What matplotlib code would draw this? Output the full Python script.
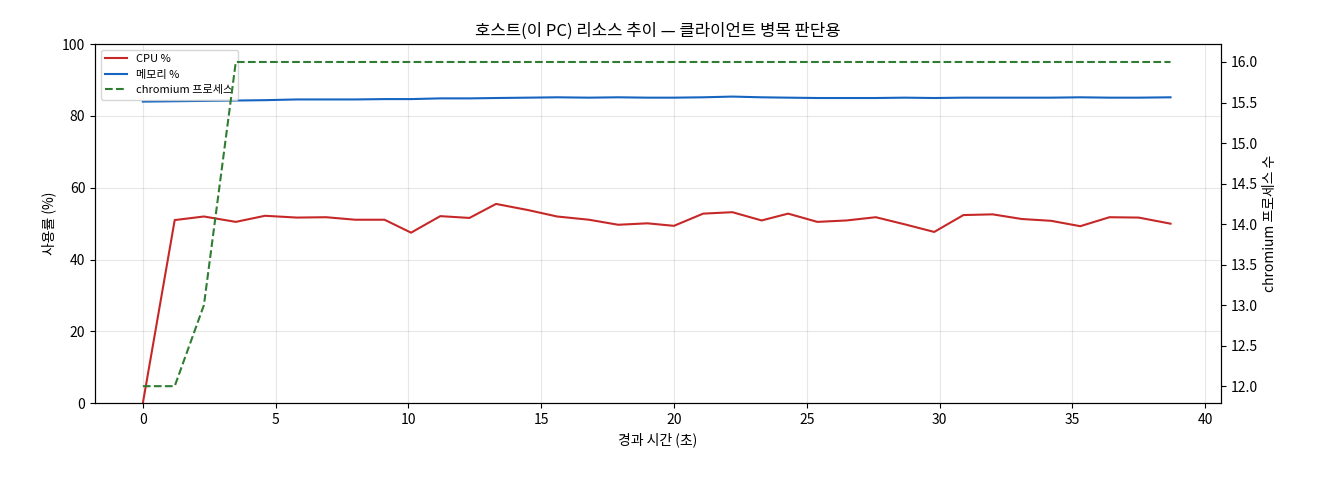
import matplotlib
matplotlib.use("Agg")
import matplotlib.pyplot as plt

plt.rcParams['font.family'] = ['Noto Sans CJK KR', 'DejaVu Sans']

t = [0,1.2,2.3,3.5,4.6,5.8,6.9,8.0,9.1,10.1,11.2,12.3,13.3,14.5,15.6,16.8,17.9,19.0,20.0,21.1,22.2,23.3,24.3,25.4,26.5,27.6,28.7,29.8,30.9,32.0,33.1,34.2,35.3,36.4,37.5,38.7]
cpu = [0,51,52,50.5,52.2,51.7,51.8,51.1,51.1,47.5,52.1,51.6,55.5,53.8,52,51.1,49.7,50.1,49.4,52.8,53.2,50.9,52.8,50.5,50.9,51.8,49.8,47.7,52.4,52.6,51.3,50.8,49.3,51.8,51.7,50.0]
mem = [84.0,84.1,84.2,84.3,84.4,84.6,84.6,84.6,84.7,84.7,84.9,84.9,85.0,85.1,85.2,85.1,85.2,85.1,85.1,85.2,85.4,85.2,85.1,85.0,85.0,85.0,85.1,85.0,85.1,85.1,85.1,85.1,85.2,85.1,85.1,85.2]
chrom = [12,12,13,16,16,16,16,16,16,16,16,16,16,16,16,16,16,16,16,16,16,16,16,16,16,16,16,16,16,16,16,16,16,16,16,16]

fig, ax = plt.subplots(figsize=(13.2, 4.8), dpi=100)
l1, = ax.plot(t, cpu, color='#c62828', lw=1.5, label='CPU %')
l2, = ax.plot(t, mem, color='#1565c0', lw=1.5, label='메모리 %')
ax.set_ylim(0, 100)
ax.set_xlim(-1.8, 40.6)
ax.set_xlabel('경과 시간 (초)')
ax.set_ylabel('사용률 (%)')
ax.grid(True, alpha=0.3)
ax2 = ax.twinx()
l3, = ax2.plot(t, chrom, color='#2e7d32', lw=1.5, ls='--', label='chromium 프로세스')
ax2.set_ylim(11.79, 16.22)
ax2.set_ylabel('chromium 프로세스 수')
ax.legend(handles=[l1, l2, l3], loc='upper left', fontsize=8)
ax.set_title('호스트(이 PC) 리소스 추이 — 클라이언트 병목 판단용')
fig.subplots_adjust(left=0.072, right=0.925, top=0.908, bottom=0.16)
fig.savefig('out.png')
